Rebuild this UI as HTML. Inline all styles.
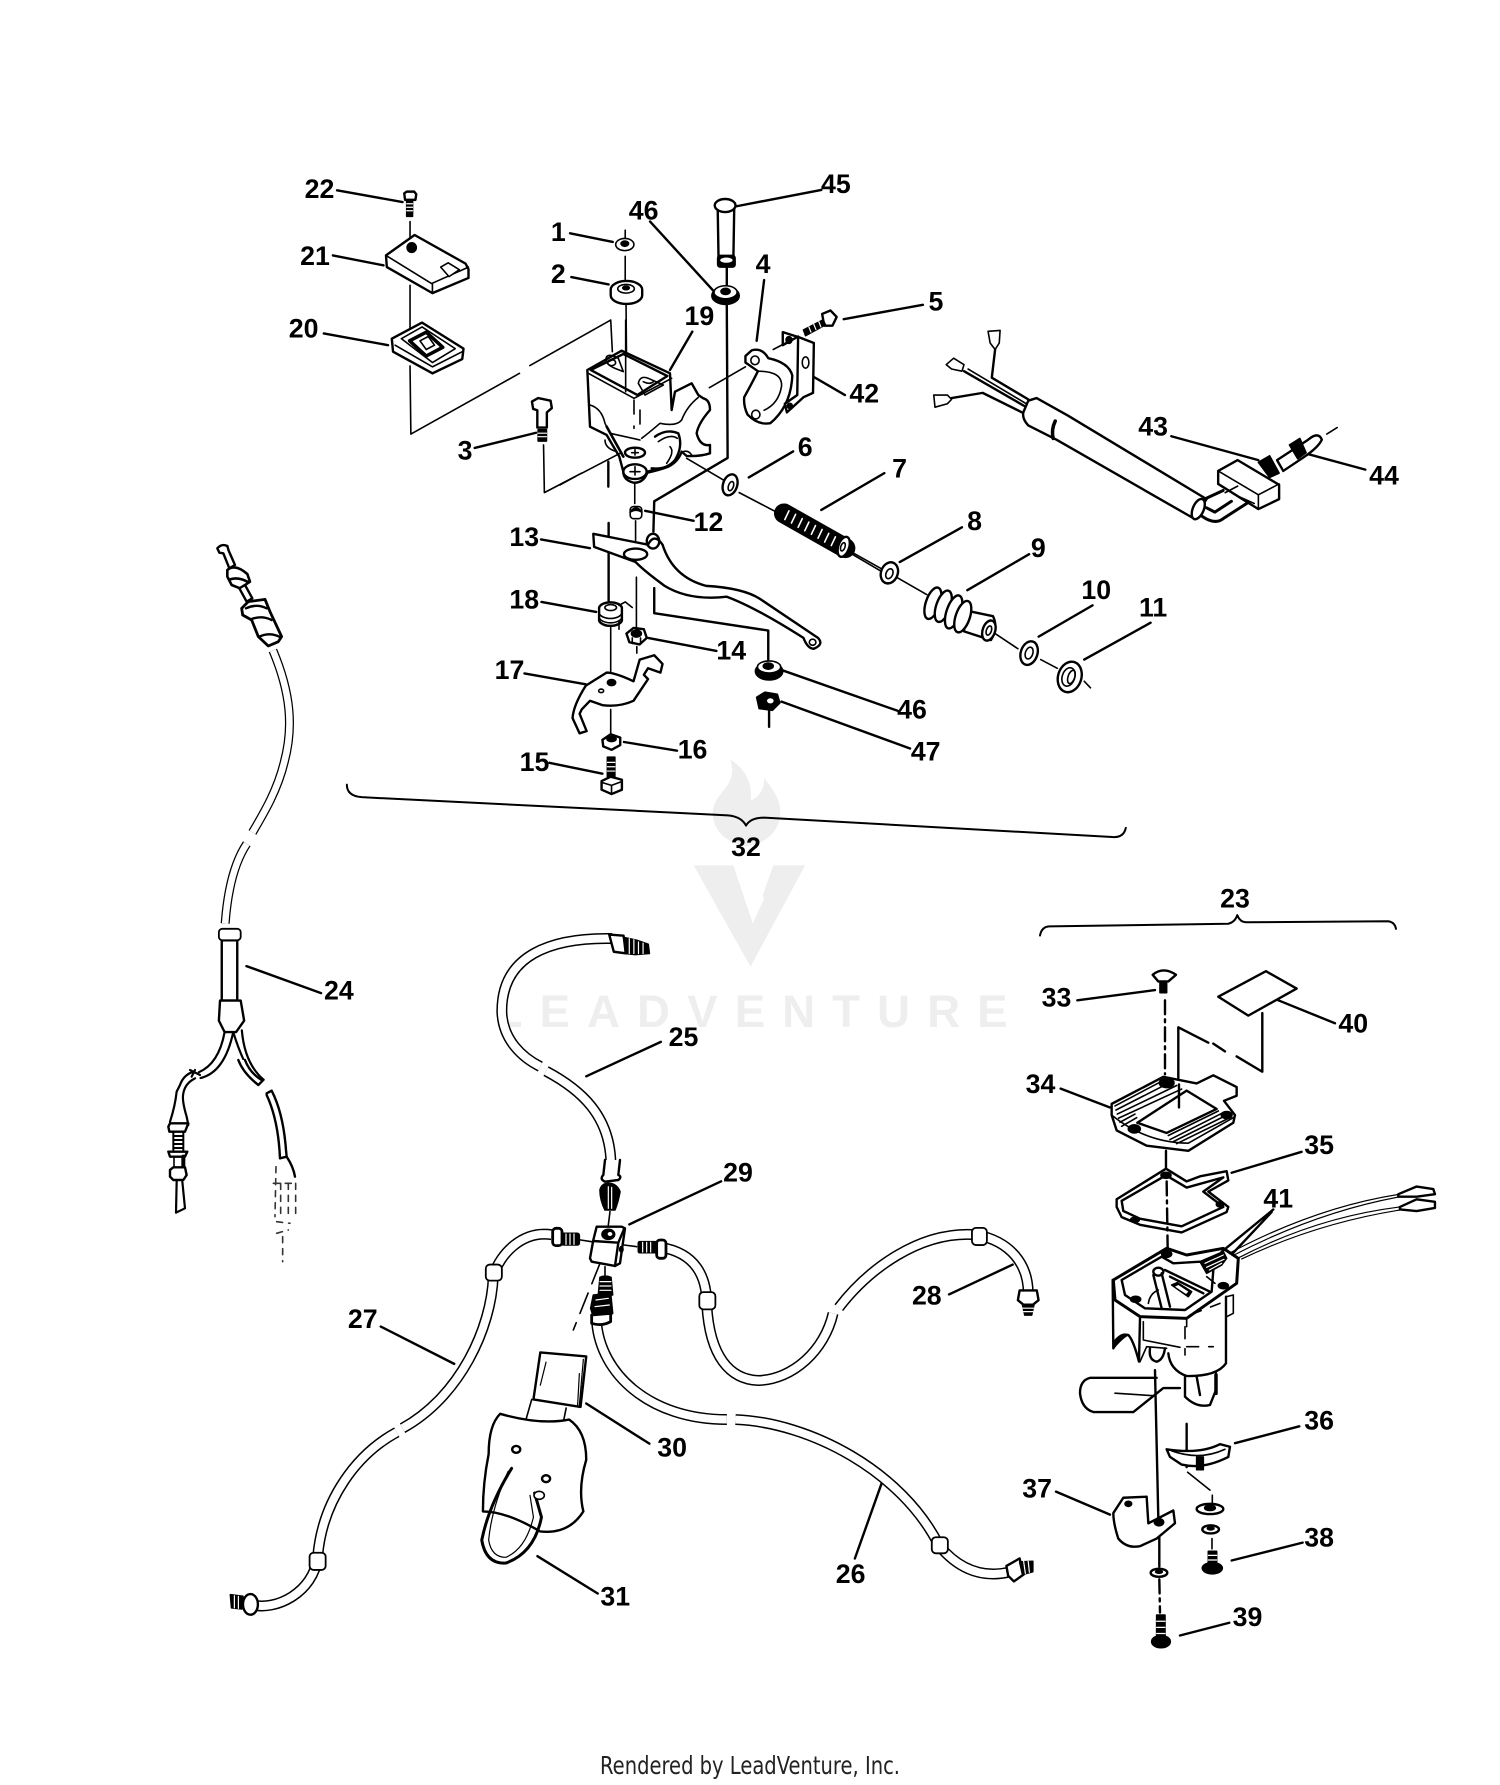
<!DOCTYPE html>
<html><head><meta charset="utf-8"><title>Parts diagram</title>
<style>
html,body{margin:0;padding:0;background:#fff}
svg{display:block}
*{vector-effect:non-scaling-stroke}
.d{fill:none;stroke:#000;stroke-width:1.6;stroke-linecap:round;stroke-linejoin:round}
.w{fill:#fff}
.k{fill:#000}
.t{stroke-width:2.4}
.n{stroke-width:1.2}
.ds{stroke-dasharray:14 5 3 5}
.h1{fill:none;stroke:#000;stroke-width:11;stroke-linecap:butt}
.h2{fill:none;stroke:#fff;stroke-width:8;stroke-linecap:butt}
.r{fill:#fff;stroke:#000;stroke-width:1.8}
.x{stroke:#fff;stroke-width:1.2;fill:none}
.l{font:bold 23.5px "Liberation Sans",sans-serif;text-anchor:middle;dominant-baseline:central;fill:#000}
</style></head><body>
<svg width="1500" height="1785" viewBox="0 0 1500 1785" xmlns="http://www.w3.org/2000/svg">
<rect width="1500" height="1785" fill="#fff"/>
<!-- watermark -->
<g transform="scale(1.1372)" fill="#eeeeee">
<path d="M642,668 C650,690 630,695 627,712 C625,730 640,742 656,744 C676,742 688,728 686,710 C684,698 676,690 672,684 C672,696 666,702 660,704 C662,690 656,676 642,668Z"/>
<path d="M610,761 L645,761 L662,812 L680,761 L708,761 L660,850Z"/>
<path d="M645,761L662,812L672,790L658,761Z" fill="#fff"/>
<text x="435" y="903" font-family="Liberation Sans,sans-serif" font-weight="bold" font-size="40" textLength="451" lengthAdjust="spacing">LEADVENTURE</text>
</g>

<!-- zoom 1 region: leaders and centre lines -->
<g transform="translate(250,150) scale(.4146,.4337)" class="d">
<path class="t" d="M210,93L368,120M200,243L322,266M178,423L333,450M772,192L875,212M775,293L865,310M965,165L1118,325M1172,130L1378,92M1240,300L1222,440M1432,390L1623,357M1345,515L1435,565M542,687L690,652M953,832L1070,855M1203,755L1310,695M1378,830L1530,745M703,1042L835,1065M960,1125L1125,1155M662,1207L810,1232M702,898L820,918M902,1365L1030,1385M722,1413L850,1438M1285,1200L1562,1293M1282,1272L1592,1380"/>
<path d="M386,165L386,225M386,312L386,420M386,498L388,655L650,515M675,497L870,392L874,465M905,185L905,205M905,245L905,300M907,355L908,465"/>
<path d="M708,680L710,790L800,745M928,750L928,815M930,855L930,920M932,985L932,1100M933,1145L933,1160M870,1100L870,1205M870,1290L870,1345M1108,548L1195,500M1180,790L1280,840M1440,925L1520,970"/>
<path class="t" d="M1150,270L1150,312M1150,355L1152,710L975,810L973,880M975,1010L975,1068L1250,1108L1250,1175M1252,1290L1252,1330"/>
</g>

<!-- master cylinder body 19 (traced) -->
<g transform="translate(560,320) scale(.3333)" class="d">
<path class="w t" d="M82,150L185,92L330,160L335,270L345,215L395,190L415,225L430,235Q450,240 450,270Q415,310 410,340Q420,380 450,375L450,400Q420,410 380,408L365,395Q355,425 325,440Q300,450 262,458Q250,490 220,488Q190,480 190,455L178,410L140,345L90,320Z"/>
<path class="t" d="M92,150L190,102L322,168L232,225Z"/>
<path d="M85,160L222,235L335,175M197,105V215"/>
<path d="M140,110Q150,100 175,115L190,155L165,145Q130,130 140,110ZM235,190Q240,165 265,175L310,195L255,225Z"/>
<ellipse cx="155" cy="128" rx="12" ry="9"/>
<path d="M250,185Q270,195 280,185"/>
<path d="M90,255Q125,265 135,310L150,340L240,360"/>
<path stroke-dasharray="14 12" d="M222,240V325M240,270V345"/>
<path d="M415,232Q380,260 365,300Q350,320 300,310Q265,340 245,355"/>
<path class="t" d="M285,350Q320,325 355,340Q370,380 345,420Q320,450 275,445"/>
<path d="M295,365Q330,340 352,355M330,380Q345,395 320,430"/>
<path stroke-width="2.6" d="M140,320L190,410"/>
<path d="M135,360Q135,385 170,395M370,395Q385,390 395,405"/>
<ellipse class="w t" cx="225" cy="398" rx="30" ry="15"/>
<path d="M225,388V405M215,398H235"/>
<ellipse class="w t" cx="225" cy="455" rx="35" ry="22"/>
<path d="M225,440V465M210,455H240M260,455L290,445"/>
<path d="M0,495L45,470M65,460L180,400M380,415L490,480M197,0V100"/>
<path class="t" d="M145,425V500M397,35L330,150"/>
</g>

<g transform="translate(250,150) scale(.4146,.4337)" class="d">
<path class="t" d="M865,860L865,1040"/>
<!-- 22 -->
<path class="w t" d="M372,100L378,96L396,96L401,102L399,115L374,115Z"/>
<path class="k" d="M378,115H392V153H378Z"/>
<path class="x" d="M378,124H392M378,132H392M378,140H392"/>
<!-- 21 -->
<path class="w t" d="M328,243L397,196L520,262L527,275L527,295L440,330L330,270Z"/>
<path d="M328,243L438,308L527,270M440,308V330"/>
<ellipse class="k" cx="390" cy="225" rx="11" ry="11"/>
<path class="w" d="M460,270L478,260L505,276L480,292Z"/>
<!-- 20 -->
<path class="w t" d="M342,435L415,398L515,458L512,482L440,515L345,465Z"/>
<path d="M365,435L415,408L495,458L440,490ZM350,450L440,500L512,465"/>
<path stroke-width="3.5" d="M385,440L425,420L465,455L425,475Z"/>
<path d="M410,440L430,430L445,450L425,460Z"/>
<!-- 1,2 -->
<ellipse class="w" cx="904" cy="218" rx="22" ry="14"/>
<ellipse class="k" cx="904" cy="216" rx="9" ry="6"/>
<path class="w t" d="M870,322A38,20 0 0 1 946,322V335A38,20 0 0 1 870,335Z"/>
<ellipse cx="907" cy="320" rx="20" ry="10"/>
<ellipse class="k" cx="907" cy="318" rx="8" ry="4"/>
<!-- 46 top -->
<ellipse class="k" cx="1147" cy="336" rx="33" ry="20"/>
<ellipse class="w" cx="1147" cy="328" rx="28" ry="15"/>
<ellipse class="k" cx="1147" cy="326" rx="11" ry="7"/>
<!-- 45 -->
<path class="w t" d="M1128,130H1168L1166,245H1130Z"/>
<ellipse class="w t" cx="1146" cy="128" rx="25" ry="15"/>
<rect class="k" x="1128" y="243" width="42" height="27" rx="6"/>
<ellipse class="w" stroke="none" cx="1149" cy="254" rx="15" ry="6"/>
<!-- clamp 4 -->
<path class="w t" d="M1195,475L1210,462Q1235,455 1250,480Q1300,490 1308,520Q1305,590 1255,630Q1225,635 1200,610Q1190,590 1192,570Q1215,530 1225,510L1195,490Z"/>
<path d="M1225,510Q1285,510 1282,545Q1275,585 1240,600"/>
<ellipse cx="1218" cy="485" rx="10" ry="10"/><ellipse cx="1220" cy="610" rx="10" ry="10"/>
<!-- 42 -->
<path class="w t" d="M1285,420L1325,432L1360,445L1358,560L1335,570L1295,605L1290,585L1320,565L1322,430L1285,450Z"/>
<ellipse cx="1340" cy="490" rx="8" ry="13"/><ellipse class="k" cx="1300" cy="438" rx="7" ry="8"/><ellipse class="k" cx="1302" cy="590" rx="6" ry="6"/>
<path d="M1262,460L1322,430"/>
<!-- 5 bolt -->
<path class="w t" d="M1380,378L1400,370L1415,385L1405,405L1385,405Z"/>
<path class="k" d="M1335,415L1382,392L1388,403L1340,428Z"/>
<path class="x" d="M1348,408L1353,420M1360,402L1365,414M1372,396L1377,408"/>
<!-- 3 -->
<path class="w t" d="M680,580L695,572L725,578L728,595L716,605V640H693V600L683,597Z"/>
<rect class="k" x="695" y="645" width="20" height="26"/>
<path class="x" d="M695,653H715M695,661H715"/>
<!-- 12 -->
<rect class="w" x="917" y="822" width="28" height="28" rx="8"/>
<path class="k" d="M917,835Q931,815 945,835Q931,826 917,835Z"/>
<!-- 13 -->
<path class="w t" d="M828,885L960,910Q975,882 995,910Q1020,985 1100,1005Q1190,1010 1230,1035L1370,1125Q1385,1140 1360,1150Q1345,1150 1335,1125Q1220,1055 1150,1030Q1060,1040 1000,1005Q950,970 930,950L830,915Z"/>
<ellipse class="t" cx="930" cy="932" rx="28" ry="13"/>
<ellipse class="t" cx="972" cy="902" rx="15" ry="17"/>
<ellipse cx="1357" cy="1135" rx="8" ry="7"/>
<!-- 6 -->
<ellipse class="w t" cx="1158" cy="772" rx="17" ry="25" transform="rotate(20 1158 772)"/>
<ellipse cx="1160" cy="775" rx="6" ry="11" transform="rotate(20 1160 775)"/>
<!-- 7 spring -->
<path stroke="#000" stroke-width="20" d="M1288,838L1436,918"/>
<path stroke="#fff" stroke-width="1.6" d="M1300,832L1290,852M1316,840L1306,860M1332,850L1322,870M1348,858L1338,878M1364,866L1354,886M1380,875L1370,895M1396,884L1386,904M1412,892L1402,912"/>
<ellipse class="w t" cx="1432" cy="915" rx="13" ry="24" transform="rotate(20 1432 915)"/>
<ellipse cx="1430" cy="915" rx="5" ry="10" transform="rotate(20 1430 915)"/>
<ellipse class="w t" cx="1542" cy="975" rx="18" ry="25" transform="rotate(20 1542 975)"/>
<ellipse cx="1543" cy="975" rx="7" ry="12" transform="rotate(20 1543 975)"/>
<!-- 18 -->
<path class="w t" d="M842,1055A28,15 0 0 1 897,1055V1085A28,15 0 0 1 842,1085Z"/>
<path d="M842,1068A28,15 0 0 0 897,1068M842,1078A28,15 0 0 0 897,1078M890,1050L905,1042L922,1055M890,1085V1105"/>
<ellipse cx="870" cy="1055" rx="14" ry="7"/>
<!-- 14 -->
<path class="w t" d="M908,1115L925,1102L950,1105L957,1125L940,1140L915,1135Z"/>
<ellipse class="k" cx="932" cy="1115" rx="12" ry="8"/>
<path d="M922,1125V1138M942,1125V1138"/>
<!-- 17 -->
<path class="w t" d="M810,1235L860,1205Q880,1205 925,1225L940,1175L975,1165L985,1175L995,1185L990,1205L960,1195L950,1210L960,1220L925,1270Q890,1285 850,1280L820,1270L800,1290L795,1300L812,1340L795,1345L778,1310Q780,1280 810,1235Z"/>
<ellipse class="k" cx="872" cy="1228" rx="10" ry="7"/><ellipse cx="847" cy="1247" rx="6" ry="4"/>
<!-- 16,15 -->
<path class="w t" d="M850,1360L870,1347L893,1355L893,1372L872,1383L852,1375Z"/>
<ellipse class="k" cx="872" cy="1358" rx="11" ry="6"/>
<rect class="k" x="862" y="1400" width="18" height="48"/>
<path class="x" d="M862,1412H880M862,1422H880M862,1432H880"/>
<path class="w t" d="M848,1455L870,1445L897,1452L897,1475L872,1485L848,1475Z"/>
<path d="M848,1458L872,1465L897,1456M872,1465V1485"/>
<!-- 46 bottom & 47 -->
<ellipse class="k" cx="1252" cy="1202" rx="33" ry="20"/>
<ellipse class="w" cx="1252" cy="1192" rx="28" ry="14"/>
<ellipse class="k" cx="1250" cy="1190" rx="12" ry="7"/>
<path class="k" d="M1222,1262L1242,1250L1272,1255L1278,1275L1260,1292L1228,1288Z"/>
<ellipse class="w" stroke="none" cx="1255" cy="1270" rx="8" ry="6"/>
</g>

<!-- zoom 2 region -->
<g transform="translate(850,150) scale(.4146,.4337)" class="d">
<path class="t" d="M775,660L985,715M1100,700L1243,737M120,950L270,870M283,1015L432,932M455,1122L585,1050M565,1175L725,1090"/>
<path d="M0,925L75,965M112,985L185,1025M350,1115L405,1150M460,1175L500,1195M565,1225L580,1240M1150,655L1175,640"/>
<path class="w" d="M333,418L362,416L360,445L350,460L338,445Z"/>
<path class="t" d="M350,460L342,525L430,575M275,510L420,590M245,572L320,560L415,605"/>
<path d="M285,505L425,585"/>
<path class="w" d="M232,495L250,480L275,495L270,510L245,505Z"/>
<path class="w" d="M202,565L235,565L245,575L235,585L205,593Z"/>
<path class="w t" d="M430,578L450,572L525,612L860,805L830,850L498,668L430,635Q415,620 418,605Z"/>
<path stroke-width="3.5" d="M495,625Q485,645 490,665"/>
<ellipse class="w t" cx="840" cy="828" rx="13" ry="25" transform="rotate(25 840 828)"/>
<path stroke-width="3" d="M850,845Q880,865 900,850L965,810M855,805L900,785M860,825L880,835L920,810"/>
<path class="w t" d="M888,740L935,715L1035,772L1035,805L985,828L888,770Z"/>
<path d="M888,740L985,795L1035,770M985,795V828M905,790L935,775M940,800L975,815"/>
<path class="w t" d="M1030,715L1105,668Q1130,648 1138,668Q1130,685 1095,708L1045,740Z"/>
<path class="k" d="M985,720L1012,705L1035,745L1012,755ZM1060,680L1085,665L1100,698L1080,712Z"/>
<ellipse class="w t" cx="95" cy="975" rx="20" ry="25" transform="rotate(25 95 975)"/>
<ellipse cx="95" cy="977" rx="8" ry="12" transform="rotate(25 95 977)"/>
<path class="w t" d="M280,1062L345,1075Q358,1100 340,1130L275,1110Z"/>
<g class="t">
<ellipse class="w" cx="200" cy="1045" rx="17" ry="38" transform="rotate(20 200 1045)"/>
<ellipse class="w" cx="225" cy="1052" rx="17" ry="38" transform="rotate(20 225 1052)"/>
<ellipse class="w" cx="250" cy="1065" rx="17" ry="40" transform="rotate(20 250 1065)"/>
<ellipse class="w" cx="272" cy="1076" rx="17" ry="38" transform="rotate(20 272 1076)"/>
</g>
<ellipse class="w t" cx="335" cy="1108" rx="15" ry="24" transform="rotate(20 335 1108)"/>
<ellipse cx="335" cy="1108" rx="6" ry="11" transform="rotate(20 335 1108)"/>
<ellipse class="w t" cx="432" cy="1160" rx="20" ry="28" transform="rotate(20 432 1160)"/>
<ellipse cx="432" cy="1160" rx="9" ry="14" transform="rotate(20 432 1160)"/>
<ellipse class="w t" cx="530" cy="1215" rx="28" ry="36" transform="rotate(20 530 1215)"/>
<ellipse cx="527" cy="1215" rx="15" ry="22" transform="rotate(20 527 1215)"/>
<ellipse cx="534" cy="1215" rx="8" ry="16" transform="rotate(20 534 1215)"/>
</g>

<!-- brace 32 -->
<g transform="scale(1.1372)" class="d">
<path stroke-width="2" d="M305,690Q305,700 318,701L640,717Q652,718 656,726Q660,719 672,719L978,736Q988,737 990,728"/>
</g>
<g transform="scale(1.1372)">
<path class="h1" style="stroke-width:9" d="M240,572C256,610 258,640 250,670C244,695 232,715 222,732"/>
<path class="h2" style="stroke-width:6.5" d="M240,572C256,610 258,640 250,670C244,695 232,715 222,732"/>
<path class="h1" style="stroke-width:9" d="M217,742C205,760 200,785 198,812"/>
<path class="h2" style="stroke-width:6.5" d="M217,742C205,760 200,785 198,812"/>
</g>
<!-- cable 24 top end (traced) -->
<g transform="translate(190,520) scale(.3333)" class="d">
<path class="w t" d="M82,85Q95,70 112,78L116,92L135,135L118,145L100,100L88,98Z"/>
<path class="w" stroke-width="2.6" d="M112,150Q135,130 172,162L180,185L150,205L125,195L112,170Z"/>
<path stroke-width="2.6" d="M120,178Q145,170 172,185"/>
<path class="w t" d="M148,205L165,195L187,235L170,245Z"/>
<path class="w" stroke-width="2.8" d="M155,265L175,245L225,238L240,275L275,350L265,365L235,378L205,350L185,300L158,285Z"/>
<path stroke-width="2.4" d="M168,265Q200,250 230,265M182,298Q215,285 245,300M208,350Q240,335 272,352"/>
</g>

<!-- zoom 4 region -->
<g transform="translate(150,880) scale(.574)" class="d">
<path class="t" d="M168,150L298,197M760,342L890,282M835,600L995,525M402,778L530,843M1392,722L1503,670M1228,1182L1275,1050M760,912L870,982M675,1178L780,1243"/>
<path class="w t" d="M125,105H152V210H125Z"/>
<rect class="r" x="120" y="85" width="38" height="20" rx="6"/>
<path class="w t" d="M122,210H158L164,245L150,265H130L120,245Z"/>
<path stroke-width="2.2" d="M130,265Q120,320 85,335M145,265Q130,335 88,345M145,265Q165,330 190,355M160,262Q165,320 198,348"/>
<g>
<path class="h1" d="M805,102C700,100 612,130 613,230C615,280 650,310 680,325"/>
<path class="h2" d="M805,102C700,100 612,130 613,230C615,280 650,310 680,325"/>
<path class="h1" d="M690,333C750,365 802,410 803,495"/>
<path class="h2" d="M690,333C750,365 802,410 803,495"/>
<path class="h1" d="M700,618C650,610 610,650 598,690C595,780 540,900 440,955"/>
<path class="h2" d="M700,618C650,610 610,650 598,690C595,780 540,900 440,955"/>
<path class="h1" d="M430,962C360,1000 300,1080 292,1180C285,1240 220,1275 175,1262"/>
<path class="h2" d="M430,962C360,1000 300,1080 292,1180C285,1240 220,1275 175,1262"/>
<path class="h1" d="M890,640C950,650 970,690 970,740C975,830 1010,870 1060,872C1120,870 1175,820 1190,755"/>
<path class="h2" d="M890,640C950,650 970,690 970,740C975,830 1010,870 1060,872C1120,870 1175,820 1190,755"/>
<path class="h1" d="M1200,745C1250,680 1340,610 1440,618C1500,630 1530,670 1530,720"/>
<path class="h2" d="M1200,745C1250,680 1340,610 1440,618C1500,630 1530,670 1530,720"/>
<path class="h1" d="M778,770C785,860 870,940 1005,940"/>
<path class="h2" d="M778,770C785,860 870,940 1005,940"/>
<path class="h1" d="M1020,940C1150,945 1310,1030 1375,1160C1400,1190 1440,1220 1500,1205"/>
<path class="h2" d="M1020,940C1150,945 1310,1030 1375,1160C1400,1190 1440,1220 1500,1205"/>
</g>
<rect class="r" x="585" y="670" width="28" height="28" rx="7"/>
<rect class="r" x="278" y="1172" width="28" height="30" rx="7"/>
<rect class="r" x="957" y="718" width="28" height="30" rx="7"/>
<rect class="r" x="1432" y="606" width="26" height="30" rx="7"/>
<rect class="r" x="1362" y="1145" width="28" height="28" rx="7"/>
<!-- end fittings -->
<path class="w t" d="M800,95L825,97L830,128L808,125Z"/>
<path class="k" d="M825,100L848,105L868,112L870,128L845,130L828,128Z"/>
<path class="x" d="M835,102V128M843,104V128M851,108V128M859,110V128"/>
<path class="k" d="M140,1245L162,1248L160,1270L142,1268Z"/>
<path class="x" d="M147,1247V1268M154,1248V1269"/>
<ellipse class="w t" cx="175" cy="1262" rx="13" ry="18"/>
<path class="w t" d="M1515,715H1545L1548,732L1538,740H1522L1512,732Z"/>
<path class="k" d="M1520,740H1540L1536,758H1524Z"/>
<path class="x" d="M1520,746H1540M1522,752H1538"/>
<path class="w t" d="M1492,1195L1515,1182L1522,1210L1505,1222L1495,1212Z"/>
<path class="k" d="M1515,1188L1538,1187L1538,1205L1520,1210Z"/>
<path class="x" d="M1522,1187L1525,1208M1530,1187L1532,1206"/>
<!-- 30 -->
<path class="w t" d="M680,823L760,830L750,918L668,905Z"/>
<path class="n" d="M690,840L680,880M748,860L745,915M755,835L748,915"/>
<path d="M665,905L655,940M725,920L720,945"/>
<!-- 31 -->
<path class="w t" d="M610,930Q680,950 730,940Q760,960 760,1010Q745,1060 755,1100Q730,1140 680,1135Q620,1100 580,1100Q580,1050 590,1000Q590,950 610,930Z"/>
<ellipse cx="638" cy="992" rx="7" ry="6" class="t"/><ellipse cx="690" cy="1043" rx="7" ry="6" class="t"/>
<path stroke-width="3" d="M630,1025Q590,1090 578,1150Q585,1192 620,1190Q670,1172 682,1110L670,1068"/>
<path class="n" d="M624,1030Q595,1095 590,1150Q595,1180 620,1180Q655,1165 668,1110L662,1072"/>
<ellipse class="w" cx="678" cy="1072" rx="9" ry="7"/>
</g>

<!-- Y fittings 24 (traced) -->
<g transform="translate(150,1060) scale(.3333)" class="d">
<path stroke-width="2.2" d="M130,35Q100,45 90,75L80,95Q75,140 60,185M135,55Q105,70 100,100Q95,120 110,170L115,195M120,30L150,45M125,50L135,30"/>
<path class="w t" d="M60,190H115L105,215H58L55,200Z"/>
<path stroke-width="2" d="M70,215V275M100,215V275M70,228H100M70,240H100M70,252H100M70,264H100"/>
<path class="w t" d="M55,275H112L105,290H60Z"/>
<path d="M72,290V330"/><path stroke-width="4" d="M100,290V330"/>
<path class="w t" d="M60,330L70,322H105L110,345L100,360H70L60,350Z"/>
<path stroke-width="2.2" d="M80,365L78,458L105,445L97,365"/>
<path class="w t" d="M350,100L365,92Q400,160 408,270L410,290L390,295Q385,180 350,105Z"/>
<path class="t" d="M410,290Q430,320 435,350"/>
<path stroke="#333" stroke-dasharray="6 6" d="M378,320L375,470M437,370V465M392,370V470M415,370V470M370,370H437M380,485L420,490M380,520L415,510M398,530V605"/>
<path class="w t" d="M265,0Q280,40 325,75L338,62Q300,40 285,0"/>
</g>

<!-- block 29 + fittings (traced) -->
<g transform="translate(540,1160) scale(.3333)" class="d">
<path class="w t" d="M195,0L190,45Q178,58 195,65L235,60Q247,50 235,45L240,0"/>
<path class="k" d="M180,90Q185,70 205,70Q230,70 240,95Q235,125 225,150H195Q180,120 180,90Z"/>
<path class="x" d="M205,80V145M215,82V145"/>
<path d="M210,155L205,195"/>
<path d="M122,240L155,245M252,255L290,260M195,320V345"/>
<path stroke-dasharray="22 10" d="M180,310L100,510"/>
<path class="w t" d="M170,200H245L255,205L240,310L225,318L155,305L150,295L160,240Z"/>
<path class="t" d="M160,243L235,248L253,205M235,248L225,318"/>
<ellipse class="k" cx="205" cy="223" rx="19" ry="15"/>
<ellipse class="w" stroke="none" cx="210" cy="222" rx="7" ry="6"/>
<ellipse class="k" cx="244" cy="268" rx="5" ry="8"/>
<rect class="k" x="65" y="220" width="53" height="35" rx="6"/>
<path class="x" d="M78,222V253M90,222V253M102,222V253"/>
<rect class="w" stroke-width="2.8" x="38" y="205" width="28" height="52" rx="10"/>
<rect class="k" x="295" y="245" width="55" height="33" rx="4"/>
<path class="x" d="M308,247V276M320,247V276M332,247V276"/>
<rect class="w" stroke-width="2.8" x="350" y="240" width="28" height="55" rx="10"/>
<path class="k" d="M180,352Q195,345 213,352L218,405L175,405Z"/>
<path class="x" d="M180,365H213M180,378H213M180,391H213"/>
<path class="k" d="M160,405L212,400L218,460L205,470H160L152,445Z"/>
<path class="x" d="M168,420L205,415M165,440L208,435"/>
<path class="w" stroke-width="2.8" d="M155,465L212,460L212,485Q185,500 155,490Z"/>
</g>

<!-- zoom 3 region: top parts -->
<g transform="translate(1000,860) scale(.3333,.5102)" class="d">
<path stroke-width="2" d="M120,148Q125,130 150,130L685,125Q705,122 712,108Q720,122 740,122L1165,120Q1185,122 1188,135"/>
<path class="t" d="M232,275L465,255M835,275L1005,320M182,448L330,485M695,613L905,572M705,1143L898,1110M695,1373L908,1338M168,1238L330,1283M540,1520L688,1495"/>
<path class="w t" d="M458,225Q490,208 528,225L505,238L475,238Z"/>
<rect class="k" x="480" y="238" width="20" height="22"/>
<path class="ds t" d="M495,275V420"/>
<path class="w t" d="M655,268L798,218L890,252L745,305Z"/>
<path class="t" d="M787,300V415L710,385M675,375L640,360M625,358L535,328V440"/>
<path class="w t" d="M335,478L490,425L590,438L640,422L710,445L710,462L672,472L705,500L700,515L565,570L440,560L350,530L335,500Z"/>
<path d="M345,482L490,432M348,490L510,436M352,498L530,442M356,506L545,449M360,514L405,498M365,522L410,505"/>
<path d="M510,548L670,495M520,552L680,500M530,556L690,505M505,540L655,492"/>
<path class="w t" d="M412,515L560,452L650,488L500,535Z"/>
<ellipse cx="500" cy="437" rx="22" ry="9" class="k"/><ellipse cx="403" cy="527" rx="18" ry="8" class="k"/><ellipse cx="680" cy="500" rx="16" ry="7" class="k"/>
<path class="t" d="M537,440V485"/>
<path d="M335,500Q440,555 565,555L700,505"/>
<path class="w" stroke-width="2.4" d="M350,665L498,605L560,630L600,620L680,610L685,628L625,650L685,680L680,690L545,730L420,715L365,700L350,680Z"/>
<path class="w t" d="M365,668L498,618L560,642L670,622L610,650L670,680L545,718L420,703L370,688Z"/>
<ellipse class="k" cx="498" cy="618" rx="15" ry="6"/><ellipse class="k" cx="405" cy="705" rx="13" ry="5"/><ellipse class="k" cx="660" cy="675" rx="11" ry="5"/>
<path class="t" d="M498,570V605"/>
<path class="t ds" d="M500,630L503,760"/>
<path class="n" d="M690,770Q950,680 1200,655M700,775Q950,690 1200,660M715,780Q950,700 1200,680M725,782Q950,712 1200,686"/>
<path class="w t" d="M1195,655L1250,640L1300,645L1305,655L1250,660L1195,660Z"/>
<path class="w t" d="M1200,680L1250,665L1305,670L1305,682L1250,688L1200,685Z"/>
<!-- lever blade -->
<path class="w t" d="M470,1015L270,1015Q240,1020 240,1045Q245,1075 280,1082L400,1082L490,1035L540,1035"/>
<path d="M345,1045L460,1050"/>
</g>

<!-- switch housing (traced) -->
<g transform="translate(1090,1220) scale(.3333)" class="d">
<path class="w" d="M70,180L230,85L290,105L400,85L445,115L440,190L430,280L410,290L408,430Q380,470 380,465V520L360,555Q320,565 285,530V470Q240,450 235,400L225,385Q220,420 200,425Q175,420 180,385L170,380L150,425L145,425Q130,360 115,345Q95,340 70,385Z" stroke="none"/>
<path stroke-width="3" d="M70,180L230,85L290,105L400,85L445,115L440,190L290,295L150,290L75,240Z"/>
<path class="t" d="M95,180L215,110L250,130L330,125L370,150L365,215L285,270L165,265L105,225Z"/>
<ellipse class="k" cx="230" cy="102" rx="15" ry="10"/>
<ellipse class="k" cx="137" cy="238" rx="15" ry="9"/>
<ellipse class="k" cx="400" cy="197" rx="15" ry="9"/>
<path class="t" d="M68,180L70,385M150,295L147,425Q130,360 115,345Q95,340 70,385"/>
<path class="k" d="M70,385L72,365Q95,335 115,345Q100,350 70,385Z"/>
<path d="M160,305V360L270,382M170,380L150,425M170,380L230,385"/>
<path class="t" d="M180,385Q175,420 200,425Q220,420 225,385"/>
<path class="t" d="M408,230V430Q380,470 290,468Q240,450 235,400"/>
<path d="M410,230L430,225V280L410,290M290,295V320"/>
<path stroke-dasharray="12 10" d="M285,320V405M290,380L370,380M300,285L390,250"/>
<path class="t" d="M285,470V530Q320,565 360,555L378,510V460M320,470L330,525"/>
<path stroke-width="3.5" d="M378,465V520"/>
<ellipse cx="205" cy="155" rx="15" ry="12" class="t"/>
<path class="t" d="M190,165L215,265M215,160L240,260M225,150L360,215M240,170L340,220"/>
<path class="k" d="M245,195L262,188L305,215L295,230Z"/>
<path class="w" stroke="none" d="M255,200L265,195L295,215L288,222Z"/>
<path d="M175,250Q180,220 205,210M350,170L375,190"/>
<path class="k" d="M330,125L400,95L410,115L395,135L350,160Z"/>
<path class="x" d="M345,130L400,105M350,142L402,118M358,150L395,130"/>
</g>

<!-- zoom 3 region: lower parts -->
<g transform="translate(1000,860) scale(.3333,.5102)" class="d">
<path class="t" d="M465,1000L475,1290M478,1320L478,1385M560,1105V1190"/>
<path d="M563,1200L630,1235M637,1245V1262M636,1330V1350"/>
<path class="w t" d="M500,1155Q600,1165 660,1145L690,1150L685,1170Q610,1195 545,1185L510,1170Z"/>
<path d="M515,1158Q600,1178 675,1155"/>
<path class="k" d="M590,1170H610V1195H590Z"/>
<path class="w t" d="M340,1280L370,1250L440,1248L445,1300L520,1275L525,1300L470,1330L420,1345Q380,1350 355,1330Q340,1300 340,1280Z"/>
<ellipse class="k" cx="385" cy="1262" rx="10" ry="5"/><ellipse class="k" cx="477" cy="1298" rx="14" ry="7"/>
<ellipse class="w t" cx="630" cy="1272" rx="40" ry="10"/><ellipse class="k" cx="630" cy="1270" rx="16" ry="5"/>
<ellipse class="w t" cx="632" cy="1312" rx="25" ry="8"/><ellipse class="k" cx="632" cy="1310" rx="10" ry="3"/>
<rect class="k" x="625" y="1355" width="25" height="28"/>
<path class="x" d="M625,1363H650M625,1372H650"/>
<ellipse class="k" cx="637" cy="1388" rx="30" ry="11"/>
<ellipse class="w t" cx="477" cy="1397" rx="25" ry="8"/><ellipse class="k" cx="477" cy="1395" rx="10" ry="3"/>
<path class="t ds" d="M478,1410L480,1475"/>
<rect class="k" x="470" y="1480" width="25" height="45"/>
<path class="x" d="M470,1492H495M470,1504H495M470,1516H495"/>
<ellipse class="k" cx="483" cy="1532" rx="28" ry="12"/>
<path class="t" d="M665,768L820,685M700,770L815,690"/>
</g>

<!-- labels -->
<g transform="scale(1.1372)">
<text class="l" x="281" y="166">22</text><text class="l" x="277" y="225">21</text><text class="l" x="267" y="289">20</text>
<text class="l" x="491" y="204">1</text><text class="l" x="491" y="241">2</text><text class="l" x="566" y="185">46</text>
<text class="l" x="735" y="162">45</text><text class="l" x="671" y="232">4</text><text class="l" x="823" y="265">5</text>
<text class="l" x="615" y="278">19</text><text class="l" x="760" y="346">42</text><text class="l" x="409" y="396">3</text>
<text class="l" x="1014" y="375">43</text><text class="l" x="1217" y="418">44</text><text class="l" x="708" y="393">6</text>
<text class="l" x="791" y="412">7</text><text class="l" x="857" y="458">8</text><text class="l" x="913" y="482">9</text>
<text class="l" x="964" y="519">10</text><text class="l" x="1014" y="534">11</text><text class="l" x="623" y="459">12</text>
<text class="l" x="461" y="472">13</text><text class="l" x="461" y="527">18</text><text class="l" x="643" y="572">14</text>
<text class="l" x="448" y="589">17</text><text class="l" x="802" y="624">46</text><text class="l" x="814" y="661">47</text>
<text class="l" x="609" y="659">16</text><text class="l" x="470" y="670">15</text><text class="l" x="656" y="745">32</text>
<text class="l" x="1086" y="790">23</text><text class="l" x="929" y="877">33</text><text class="l" x="1190" y="900">40</text>
<text class="l" x="915" y="953">34</text><text class="l" x="1160" y="1007">35</text><text class="l" x="1124" y="1054">41</text>
<text class="l" x="298" y="871">24</text><text class="l" x="601" y="912">25</text><text class="l" x="649" y="1031">29</text>
<text class="l" x="319" y="1160">27</text><text class="l" x="815" y="1139">28</text><text class="l" x="1160" y="1249">36</text>
<text class="l" x="912" y="1309">37</text><text class="l" x="1160" y="1352">38</text><text class="l" x="1097" y="1422">39</text>
<text class="l" x="591" y="1273">30</text><text class="l" x="541" y="1404">31</text><text class="l" x="748" y="1384">26</text>
</g>
<text x="600" y="1774" font-family="DejaVu Sans,sans-serif" font-size="25" fill="#222" textLength="300" lengthAdjust="spacingAndGlyphs">Rendered by LeadVenture, Inc.</text>
</svg>
</body></html>
